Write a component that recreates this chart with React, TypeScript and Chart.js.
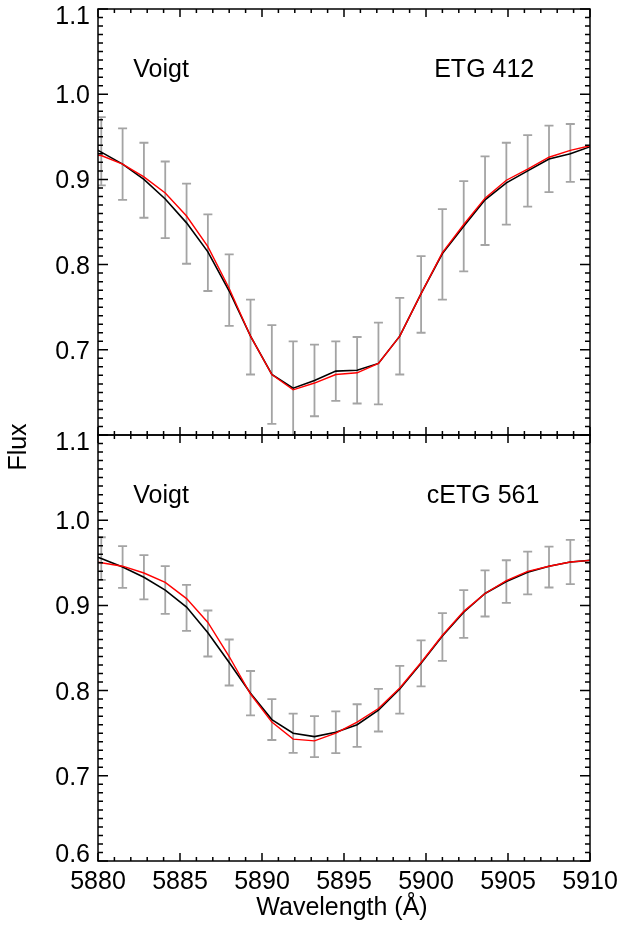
import { useEffect, useRef } from 'react';
import { Chart, registerables } from 'chart.js';

Chart.register(...registerables);

// Wavelength grid (Å)
const wavelength = [
  5878.9, 5880.2, 5881.5, 5882.8, 5884.1, 5885.4, 5886.7, 5888.0, 5889.3, 5890.6,
  5891.9, 5893.2, 5894.5, 5895.8, 5897.1, 5898.4, 5899.7, 5901.0, 5902.3, 5903.6,
  5904.9, 5906.2, 5907.5, 5908.8, 5910.1,
];

// Top panel: ETG 412
const topObserved = [
  null, 0.933, 0.918, 0.899, 0.876, 0.848, 0.814, 0.770, 0.715, 0.671,
  0.654, 0.664, 0.675, 0.676, 0.684, 0.716, 0.765, 0.812, 0.845, 0.875,
  0.895, 0.910, 0.924, 0.931, 0.940,
];
const topError = [
  null, 0.040, 0.042, 0.044, 0.045, 0.047, 0.045, 0.042, 0.044, 0.058,
  0.056, 0.042, 0.035, 0.039, 0.048, 0.045, 0.045, 0.053, 0.053, 0.052,
  0.048, 0.042, 0.039, 0.034, 0.034,
];
const topModelBlack = [
  0.945, 0.932, 0.918, 0.900, 0.877, 0.849, 0.815, 0.769, 0.716, 0.671,
  0.655, 0.664, 0.675, 0.676, 0.684, 0.716, 0.766, 0.813, 0.845, 0.876,
  0.896, 0.910, 0.924, 0.930, 0.939,
];
const topModelRed = [
  0.930, 0.928, 0.918, 0.903, 0.884, 0.857, 0.821, 0.772, 0.716, 0.671,
  0.653, 0.661, 0.671, 0.673, 0.684, 0.716, 0.766, 0.814, 0.847, 0.878,
  0.899, 0.912, 0.926, 0.934, 0.940,
];

// Bottom panel: cETG 561
const bottomObserved = [
  null, 0.955, 0.945, 0.933, 0.918, 0.897, 0.867, 0.833, 0.797, 0.766,
  0.750, 0.746, 0.751, 0.759, 0.777, 0.801, 0.832, 0.863, 0.890, 0.914,
  0.928, 0.938, 0.945, 0.951, 0.953,
];
const bottomError = [
  null, 0.025, 0.0245, 0.026, 0.028, 0.027, 0.027, 0.027, 0.026, 0.024,
  0.023, 0.024, 0.0245, 0.025, 0.025, 0.028, 0.027, 0.028, 0.028, 0.027,
  0.025, 0.025, 0.024, 0.026, 0.023,
];
const bottomModelBlack = [
  0.964, 0.955, 0.945, 0.933, 0.918, 0.898, 0.868, 0.833, 0.797, 0.766,
  0.750, 0.746, 0.751, 0.760, 0.777, 0.802, 0.832, 0.864, 0.892, 0.914,
  0.928, 0.939, 0.946, 0.951, 0.953,
];
const bottomModelRed = [
  0.954, 0.950, 0.946, 0.938, 0.927, 0.908, 0.880, 0.840, 0.796, 0.763,
  0.743, 0.741, 0.750, 0.763, 0.779, 0.803, 0.833, 0.865, 0.893, 0.914,
  0.929, 0.940, 0.946, 0.951, 0.953,
];

// Axis labels
const xTickLabels = [5880, 5885, 5890, 5895, 5900, 5905, 5910];
const topYTickLabels = [0.7, 0.8, 0.9, 1.0, 1.1];
const bottomYTickLabels = [0.6, 0.7, 0.8, 0.9, 1.0, 1.1];
const topPanelLabels = ['Voigt', 'ETG 412'];
const bottomPanelLabels = ['Voigt', 'cETG 561'];
const xTitle = 'Wavelength (Å)';
const yTitle = 'Flux';

const FONT = "25px 'Liberation Sans', Arial, Helvetica, sans-serif";

const toXY = (ys: (number | null)[]) => wavelength.map((x, i) => ({ x, y: ys[i] }));

const panels = [
  { axis: 'yTop', labels: topYTickLabels, text: topPanelLabels, textX: [5882.15, 5900.5] },
  { axis: 'yBottom', labels: bottomYTickLabels, text: bottomPanelLabels, textX: [5882.15, 5900.05] },
];

const idlPlugin = {
  id: 'idlPanels',
  beforeDatasetsDraw(chart: any) {
    const ctx = chart.ctx;
    const xs = chart.scales.x;
    const area = chart.chartArea;
    chart.data.datasets.forEach((ds: any) => {
      if (!ds.errorBars) return;
      const ys = chart.scales[ds.yAxisID];
      ctx.save();
      ctx.beginPath();
      ctx.rect(area.left, ys.top, area.right - area.left, ys.bottom - ys.top);
      ctx.clip();
      ctx.strokeStyle = '#a4a4a4';
      ctx.lineWidth = 1.8;
      ds.data.forEach((pt: any, i: number) => {
        const e = ds.errorBars[i];
        if (pt.y == null || e == null) return;
        const x = xs.getPixelForValue(pt.x);
        const y1 = ys.getPixelForValue(pt.y + e);
        const y2 = ys.getPixelForValue(pt.y - e);
        ctx.beginPath();
        ctx.moveTo(x, y1); ctx.lineTo(x, y2);
        ctx.moveTo(x - 4.5, y1); ctx.lineTo(x + 4.5, y1);
        ctx.moveTo(x - 4.5, y2); ctx.lineTo(x + 4.5, y2);
        ctx.stroke();
      });
      ctx.restore();
    });
  },
  afterDatasetsDraw(chart: any) {
    const ctx = chart.ctx;
    const xs = chart.scales.x;
    const area = chart.chartArea;
    const L = area.left, R = area.right;
    ctx.save();
    ctx.strokeStyle = '#000';
    ctx.fillStyle = '#000';
    ctx.lineWidth = 1.5;
    ctx.font = FONT;
    let panelBottom = 0;
    panels.forEach((p) => {
      const ys = chart.scales[p.axis];
      const T = ys.top, B = ys.bottom;
      panelBottom = Math.max(panelBottom, B);
      ctx.strokeRect(L, T, R - L, B - T);
      ctx.beginPath();
      for (let k = 5880; k <= 5910; k++) {
        const len = k % 5 === 0 ? 8 : 4;
        const x = xs.getPixelForValue(k);
        ctx.moveTo(x, B); ctx.lineTo(x, B - len);
        ctx.moveTo(x, T); ctx.lineTo(x, T + len);
      }
      for (let k = 60; k <= 110; k++) {
        const len = k % 10 === 0 ? 10 : 5;
        const y = ys.getPixelForValue(k / 100);
        ctx.moveTo(L, y); ctx.lineTo(L + len, y);
        ctx.moveTo(R, y); ctx.lineTo(R - len, y);
      }
      ctx.stroke();
      // y tick labels
      ctx.textAlign = 'right';
      ctx.textBaseline = 'alphabetic';
      const maxV = Math.max(...p.labels), minV = Math.min(...p.labels);
      p.labels.forEach((v) => {
        const y = ys.getPixelForValue(v);
        let off = 9;
        if (v === maxV) off = 15;
        else if (v === minV && v === ys.min) off = 1;
        ctx.fillText(v.toFixed(1), L - 8, y + off);
      });
      // panel annotations
      ctx.textAlign = 'left';
      const ty = ys.getPixelForValue(1.1) + 68;
      p.text.forEach((t, i) => {
        ctx.fillText(t, xs.getPixelForValue(p.textX[i]), ty);
      });
    });
    // x tick labels
    ctx.textAlign = 'center';
    ctx.textBaseline = 'alphabetic';
    xTickLabels.forEach((v) => {
      ctx.fillText(String(v), xs.getPixelForValue(v), panelBottom + 28);
    });
    ctx.fillText(xTitle, (L + R) / 2 - 2, panelBottom + 54);
    ctx.translate(26, 447);
    ctx.rotate(-Math.PI / 2);
    ctx.fillText(yTitle, 0, 0);
    ctx.restore();
  },
};

export default function App() {
  const ref = useRef<HTMLCanvasElement | null>(null);
  useEffect(() => {
    if (!ref.current) return;
    const chart = new Chart(ref.current, {
      type: 'line',
      data: {
        datasets: [
          { label: 'ETG 412 data', data: toXY(topObserved), yAxisID: 'yTop', showLine: false, pointRadius: 0, order: 3, errorBars: topError } as any,
          { label: 'ETG 412 model', data: toXY(topModelBlack), yAxisID: 'yTop', borderColor: '#000', borderWidth: 1.6, pointRadius: 0, tension: 0, order: 2 },
          { label: 'ETG 412 model 2', data: toXY(topModelRed), yAxisID: 'yTop', borderColor: '#ff0000', borderWidth: 1.4, pointRadius: 0, tension: 0, order: 1 },
          { label: 'cETG 561 data', data: toXY(bottomObserved), yAxisID: 'yBottom', showLine: false, pointRadius: 0, order: 3, errorBars: bottomError } as any,
          { label: 'cETG 561 model', data: toXY(bottomModelBlack), yAxisID: 'yBottom', borderColor: '#000', borderWidth: 1.6, pointRadius: 0, tension: 0, order: 2 },
          { label: 'cETG 561 model 2', data: toXY(bottomModelRed), yAxisID: 'yBottom', borderColor: '#ff0000', borderWidth: 1.4, pointRadius: 0, tension: 0, order: 1 },
        ],
      },
      options: {
        responsive: false,
        animation: false,
        events: [],
        layout: { padding: { left: 98, right: 32, top: 9, bottom: 65 } },
        plugins: { legend: { display: false }, tooltip: { enabled: false } },
        scales: {
          x: { type: 'linear', min: 5880, max: 5910, display: false },
          yTop: { type: 'linear', position: 'left', min: 0.6, max: 1.1, stack: 'flux', stackWeight: 1, weight: 2, display: false },
          yBottom: { type: 'linear', position: 'left', min: 0.6, max: 1.1, stack: 'flux', stackWeight: 1, weight: 1, display: false },
        },
      } as any,
      plugins: [idlPlugin],
    });
    return () => chart.destroy();
  }, []);
  return (
    <div style={{ position: 'absolute', left: 0, top: 0, width: 622, height: 926, background: '#fff' }}>
      <canvas ref={ref} width={622} height={926} style={{ width: 622, height: 926, display: 'block' }} />
    </div>
  );
}
